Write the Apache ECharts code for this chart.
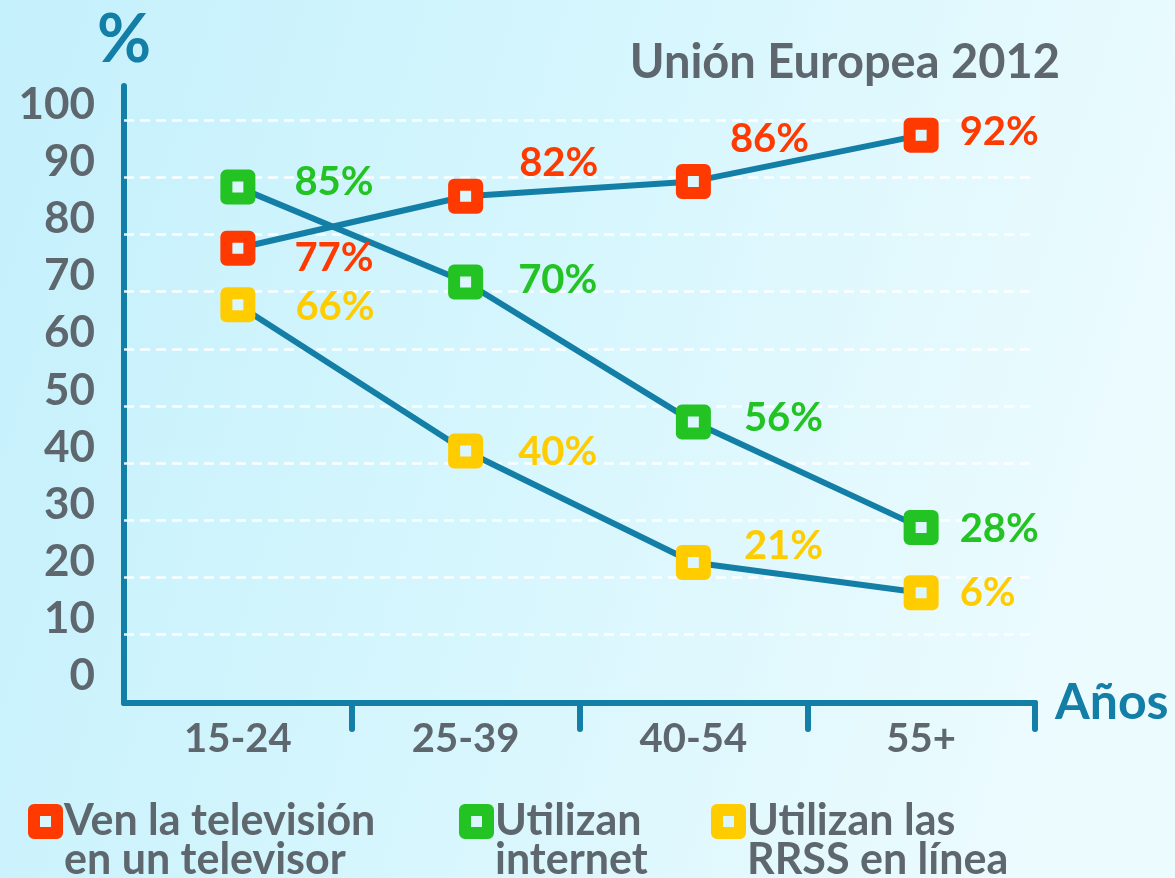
<!DOCTYPE html>
<html>
<head>
<meta charset="utf-8">
<style>
  html, body { margin: 0; padding: 0; }
  #chart { width: 1175px; height: 878px; }
</style>
<script src="https://cdn.jsdelivr.net/npm/echarts@6/dist/echarts.min.js"></script>
</head>
<body>
<div id="chart"></div>
<script>
// data
var ageGroups = ['15-24', '25-39', '40-54', '55+'];
// where each marker sits on the axis
var tvPlot = [77.6, 86.7, 89.3, 97.4];
var netPlot = [88.3, 71.7, 47.2, 28.7];
var rrssPlot = [67.7, 42.1, 22.6, 17.3];
// the printed value next to each marker
var tvLabel = [77, 82, 86, 92];
var netLabel = [85, 70, 56, 28];
var rrssLabel = [66, 40, 21, 6];
var gridTicks = [10, 20, 30, 40, 50, 60, 70, 80, 90, 100];
var seriesNames = ['Ven la televisión\nen un televisor', 'Utilizan\ninternet', 'Utilizan las\nRRSS en línea'];

// label placement (dx from marker centre, dy)
var tvPos = [[51, 10], [48, -33], [31, -42], [33, -3]];
var netPos = [[51, -5], [47, -2], [45, -4], [33, 1]];
var rrssPos = [[52, 2], [47, 1], [45, -16], [33, 0]];

var teal = '#137ea6';
var gray = '#5e676d';
var bg = '#dbf6fc';
var font = 'Lato';
var colors = ['#ff3a00', '#22c322', '#ffcc00'];

var chart = echarts.init(document.getElementById('chart'));

function makeSeries(name, plot, labels, pos, color, withGrid) {
  var s = {
    name: name,
    type: 'line',
    symbol: 'rect',
    symbolSize: 23,
    lineStyle: { color: teal, width: 6 },
    itemStyle: { color: bg, borderColor: color, borderWidth: 12, borderJoin: 'round' },
    data: plot.map(function (v, i) {
      return {
        value: v,
        label: { distance: pos[i][0] - 12, offset: [0, pos[i][1]] }
      };
    }),
    label: {
      show: true,
      position: 'right',
      color: color,
      fontFamily: font,
      fontWeight: 'bold',
      fontSize: 40,
      formatter: function (p) { return labels[p.dataIndex] + '%'; }
    },
    emphasis: { disabled: true },
    z: 3
  };
  if (withGrid) {
    s.markLine = {
      silent: true,
      symbol: ['none', 'none'],
      label: { show: false },
      lineStyle: { color: '#ffffff', width: 2.5, type: [10, 6], opacity: 0.9 },
      data: gridTicks.map(function (t) { return { yAxis: t }; }),
      z: 1
    };
  }
  return s;
}

function legendFor(i, left) {
  return {
    left: left,
    top: 761,
    padding: 0,
    orient: 'horizontal',
    selectedMode: false,
    itemWidth: 23,
    itemHeight: 23,
    data: [{
      name: seriesNames[i],
      icon: 'rect',
      itemStyle: { color: bg, borderColor: colors[i], borderWidth: 12, borderJoin: 'round' }
    }],
    // blank first line so the first text line sits level with the icon
    formatter: function (n) { return '\n' + n; },
    textStyle: {
      color: gray,
      fontFamily: font,
      fontWeight: 'bold',
      fontSize: 43,
      lineHeight: 39,
      padding: [0, 0, 0, 2]
    }
  };
}

var option = {
  backgroundColor: {
    type: 'linear', x: 0, y: 0, x2: 1, y2: 0.4,
    colorStops: [
      { offset: 0, color: '#c4f0fc' },
      { offset: 0.5, color: '#d6f6fd' },
      { offset: 1, color: '#ecfbfe' }
    ]
  },
  animation: false,
  title: {
    text: 'Unión Europea 2012',
    right: 110,
    top: 34,
    textStyle: { color: gray, fontFamily: font, fontWeight: 'bold', fontSize: 47 }
  },
  legend: [legendFor(0, 28), legendFor(1, 459), legendFor(2, 711)],
  grid: { left: 124, right: 140, top: 86, bottom: 175 },
  xAxis: {
    type: 'category',
    data: ageGroups,
    boundaryGap: true,
    name: 'Años',
    nameLocation: 'end',
    nameGap: 20,
    nameTextStyle: { color: teal, fontFamily: font, fontWeight: 'bold', fontSize: 50, verticalAlign: 'middle' },
    axisLine: { onZero: false, lineStyle: { color: teal, width: 6, cap: 'round' } },
    axisTick: {
      show: true,
      length: 26,
      lineStyle: { color: teal, width: 6, cap: 'round' },
      interval: function (index) { return index !== 0; }
    },
    axisLabel: {
      color: gray,
      fontFamily: font,
      fontWeight: 'bold',
      fontSize: 40,
      margin: 16
    }
  },
  yAxis: {
    type: 'value',
    min: -2,
    max: 106,
    interval: 2,
    name: '%',
    nameLocation: 'end',
    nameGap: 12,
    nameTextStyle: { color: teal, fontFamily: font, fontWeight: 'bold', fontSize: 66, align: 'center' },
    axisLine: { show: true, lineStyle: { color: teal, width: 6, cap: 'round' } },
    axisTick: { show: false },
    splitLine: { show: false },
    axisLabel: {
      color: gray,
      fontFamily: font,
      fontWeight: 'bold',
      fontSize: 44,
      lineHeight: 31,
      margin: 29,
      verticalAlign: 'bottom',
      formatter: function (v) {
        var r = Math.round(v);
        return (r >= 0 && r <= 100 && r % 10 === 0) ? String(r) : '';
      }
    }
  },
  series: [
    makeSeries(seriesNames[0], tvPlot, tvLabel, tvPos, colors[0], true),
    makeSeries(seriesNames[1], netPlot, netLabel, netPos, colors[1], false),
    makeSeries(seriesNames[2], rrssPlot, rrssLabel, rrssPos, colors[2], false)
  ]
};

option && chart.setOption(option);
window.onresize = function () { chart.resize(); };
</script>
</body>
</html>
